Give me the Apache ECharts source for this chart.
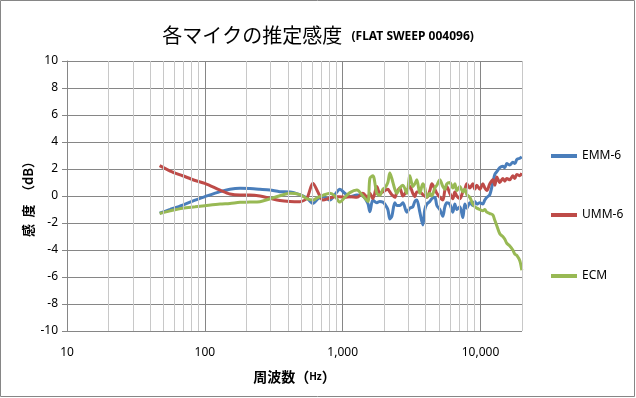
<!DOCTYPE html>
<html><head><meta charset="utf-8">
<script src="https://cdn.jsdelivr.net/npm/echarts@6/dist/echarts.min.js"></script>
<style>html,body{margin:0;padding:0;background:#fff}#c{width:636px;height:398px}</style>
</head><body><div id="c"></div>
<script>
const seriesNames = ['EMM-6', 'UMM-6', 'ECM'];
const freqs = [47, 56, 69, 85, 100, 129, 152, 180, 212, 251, 297, 350, 414, 489, 550, 608, 661, 719, 808, 878, 954,
  1037, 1128, 1268, 1401, 1523, 1575, 1656, 1770, 1861, 1957, 2023, 2127, 2199, 2274, 2391, 2472, 2599, 2733, 2922,
  3072, 3229, 3339, 3451, 3629, 3815, 3945, 4079, 4290, 4436, 4664, 4822, 5070, 5330, 5510, 5695, 5990, 6297, 6512,
  6733, 7079, 7442, 7693, 7956, 8364, 8791, 9094, 9402, 9886, 10390, 10745, 11110, 11680, 12280, 12700, 13130, 13800,
  14510, 15010, 15510, 16310, 17150, 17740, 18340, 19280, 19930];
const emm6 = [-1.27, -1.0, -0.67, -0.3, -0.05, 0.32, 0.5, 0.57, 0.55, 0.5, 0.44, 0.32, 0.3, 0.1, -0.15, -0.55, -0.2, -0.05, -0.3, 0.1, 0.5,
  0.2, -0.05, 0.07, 0.0, -0.55, -1.16, -0.3, -0.5, -0.4, -0.45, -0.6, -1.0, -1.7, -1.5, -0.5, -0.7, -0.7, -0.5, -1.2,
  -0.9, -0.8, -0.4, -0.3, -1.2, -2.15, -1.0, -0.6, -0.4, -0.2, -0.1, -0.7, -1.0, -1.5, -0.8, -0.5, -0.6, -1.2, -0.6,
  -1.0, -0.8, -1.6, -0.6, -0.9, -0.5, -0.7, -0.4, -0.6, -0.5, -0.6, -0.3, -0.1, 0.1, 1.0, 1.6, 1.8, 2.1,
  2.2, 2.1, 2.4, 2.3, 2.5, 2.4, 2.7, 2.8, 2.9];
const umm6 = [2.25, 1.85, 1.5, 1.15, 0.94, 0.44, 0.15, 0.07, 0.07, 0.0, -0.17, -0.33, -0.4, -0.42, -0.15, 0.95, 0.3, -0.3, -0.15, -0.05, -0.05,
  -0.1, -0.05, -0.1, 0.2, -0.15, 0.2, -0.2, 0.7, 0.2, 0.3, 0.4, 0.5, 0.3, 0.1, -0.1, 0.3, 0.6, 0.0, 0.4,
  0.7, 0.2, -0.05, 0.3, 0.3, 0.1, 0.0, -0.1, 0.4, 0.9, 0.5, 0.2, -0.1, -0.3, 0.4, 0.7, 0.2, -0.2, 0.3,
  0.0, -0.2, 0.3, 0.5, 0.9, 0.6, 0.9, 0.5, 0.8, 0.5, 0.9, 0.6, 0.4, 0.9, 1.2, 0.8, 1.4, 1.0,
  1.3, 1.1, 1.3, 1.2, 1.5, 1.3, 1.6, 1.5, 1.7];
const ecm = [-1.3, -1.1, -0.9, -0.8, -0.72, -0.6, -0.55, -0.47, -0.45, -0.42, -0.2, 0.02, 0.2, 0.1, -0.2, -0.3, -0.1, 0.05, 0.2, 0.0, -0.45,
  -0.1, 0.25, 0.44, 0.0, -0.4, 1.3, 1.5, 0.2, 0.05, 0.5, 0.6, 1.0, 1.7, 1.3, 0.5, 0.2, 0.6, 0.8, 0.2,
  1.5, 0.7, 0.9, 1.2, 0.2, 0.9, 0.6, -0.1, 0.2, 0.0, 0.6, 0.8, 1.2, 0.7, 0.5, 0.9, 1.0, 0.6, 0.9,
  0.4, 0.7, 0.3, 0.5, 0.1, -0.1, -0.6, -0.8, -0.9, -1.0, -1.1, -1.0, -1.2, -1.3, -1.4, -1.8, -2.2, -2.8,
  -3.0, -3.2, -3.5, -3.7, -4.0, -4.3, -4.4, -4.8, -5.5];
const minorGrid = [20, 30, 40, 50, 60, 70, 80, 90, 200, 300, 400, 500, 600, 700, 800, 900,
  2000, 3000, 4000, 5000, 6000, 7000, 8000, 9000, 20000];
const colors = ['#4a7ebb', '#be4b48', '#98b954'];
const valueSets = [emm6, umm6, ecm];

const chart = echarts.init(document.getElementById('c'));
const numFont = 'Noto Sans';
const cjk = '"Noto Sans CJK JP"';
const series = [{
  type: 'line', data: [], silent: true, z: 1,
  markLine: {
    silent: true, symbol: 'none', label: {show: false},
    lineStyle: {color: '#c8c8c8', type: 'solid', width: 1},
    data: minorGrid.map(v => ({xAxis: v}))
  }
}];
seriesNames.forEach((n, i) => {
  series.push({
    name: n, type: 'line', symbol: 'none', smooth: 0.3, z: 3,
    lineStyle: {color: colors[i], width: 3},
    itemStyle: {color: colors[i]},
    data: freqs.map((f, j) => [f, valueSets[i][j]])
  });
});
const legendTops = [145, 204, 265];
chart.setOption({
  animation: false,
  graphic: [{type: 'rect', shape: {x: 0.5, y: 0.5, width: 634, height: 396}, style: {fill: 'none', stroke: '#868686', lineWidth: 1}}],
  title: {
    left: 'center', top: 15,
    text: '{a|各マイクの推定感度}{b|   (FLAT SWEEP 004096)}',
    textStyle: {fontWeight: 'normal', rich: {
      a: {fontFamily: cjk, fontSize: 20, fontWeight: 'normal', color: '#000', lineHeight: 30},
      b: {fontFamily: numFont, fontSize: 12, fontWeight: 'bold', color: '#000', lineHeight: 30, padding: [4, 0, 0, 0]}
    }}
  },
  legend: seriesNames.map((n, i) => ({
    data: [n], orient: 'vertical', left: 546, top: legendTops[i],
    itemWidth: 26, itemHeight: 4, icon: 'rect',
    textStyle: {fontFamily: numFont, fontSize: 12, color: '#000'}
  })),
  grid: {left: 67, right: 114, top: 61, bottom: 67},
  xAxis: {
    type: 'log', logBase: 10, min: 10, max: 20000,
    name: '{a|周波数（}{b|Hz}{a|）}', nameLocation: 'middle', nameGap: 39, nameMoveOverlap: false,
    nameTextStyle: {rich: {
      a: {fontFamily: cjk, fontSize: 14, fontWeight: 'bold', color: '#000'},
      b: {fontFamily: numFont, fontSize: 10, fontWeight: 'bold', color: '#000'}
    }},
    axisLine: {lineStyle: {color: '#868686'}},
    axisTick: {show: true, length: 5, lineStyle: {color: '#868686'}},
    axisLabel: {fontFamily: numFont, fontSize: 12, color: '#000', margin: 16, showMaxLabel: false,
      formatter: v => Number(v).toLocaleString('en-US')},
    splitLine: {show: true, lineStyle: {color: '#868686'}}
  },
  yAxis: {
    type: 'value', min: -10, max: 10, interval: 2,
    name: '感\u2002度\u2002（dB）', nameLocation: 'middle', nameGap: 32, nameRotate: 90, nameMoveOverlap: false,
    nameTextStyle: {fontFamily: cjk, fontSize: 13, fontWeight: 'bold', color: '#000'},
    axisLine: {show: true, lineStyle: {color: '#868686'}},
    axisTick: {show: true, length: 5, lineStyle: {color: '#868686'}},
    axisLabel: {fontFamily: numFont, fontSize: 12, color: '#000', margin: 9},
    splitLine: {show: true, lineStyle: {color: '#868686'}}
  },
  series: series
});
</script></body></html>
